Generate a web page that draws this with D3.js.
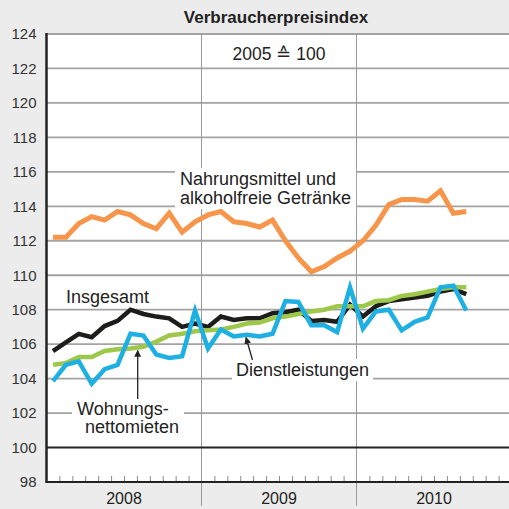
<!DOCTYPE html>
<html>
<head>
<meta charset="utf-8">
<script src="https://cdn.jsdelivr.net/npm/d3@7"></script>
<style>
  html, body { margin: 0; padding: 0; background: #ececec; }
  svg { display: block; font-family: "Liberation Sans", Arial, Helvetica, sans-serif; }
</style>
</head>
<body>
<svg id="chart" width="509" height="509"></svg>
<script>
// Monthly index values, January 2008 to September 2010 (2005 = 100)
const years = ["2008", "2009", "2010"];
const yTicks = [98, 100, 102, 104, 106, 108, 110, 112, 114, 116, 118, 120, 122, 124];

const nahrungsmittel = [112.2, 112.2, 113.0, 113.4, 113.2, 113.7, 113.5, 113.0, 112.7, 113.6, 112.5, 113.1,
  113.5, 113.7, 113.1, 113.0, 112.8, 113.2, 112.0, 111.0, 110.2, 110.5, 111.0, 111.4,
  112.0, 112.9, 114.1, 114.4, 114.4, 114.3, 114.9, 113.6, 113.7];
const insgesamt = [105.6, 106.1, 106.6, 106.4, 107.05, 107.35, 108.0, 107.75, 107.6, 107.5, 107.0, 107.2,
  107.0, 107.6, 107.4, 107.5, 107.5, 107.8, 107.85, 108.0, 107.35, 107.4, 107.3, 108.3,
  107.6, 108.2, 108.5, 108.6, 108.7, 108.8, 109.05, 109.2, 108.9];
const dienstleistungen = [103.85, 104.8, 105.0, 103.7, 104.55, 104.8, 106.6, 106.5, 105.4, 105.2, 105.3, 107.95,
  105.75, 106.85, 106.45, 106.55, 106.45, 106.6, 108.5, 108.45, 107.1, 107.1, 106.7, 109.3,
  106.9, 107.9, 108.0, 106.8, 107.3, 107.55, 109.3, 109.4, 107.95];
const wohnungsnettomieten = [104.8, 104.9, 105.25, 105.25, 105.6, 105.7, 105.75, 105.85, 106.15, 106.5, 106.6, 106.75,
  106.8, 106.85, 107.0, 107.2, 107.25, 107.5, 107.6, 107.75, 107.9, 108.0, 108.2, 108.2,
  108.2, 108.5, 108.55, 108.8, 108.9, 109.05, 109.2, 109.3, 109.3];

const W = 509, H = 509;
const svg = d3.select("#chart");

// month index scale: 36 months across three years
const x = d3.scaleLinear().domain([0, 36]).range([46.5, 511.5]);
const y = d3.scaleLinear().domain([98, 124]).range([482, 34]);

// background and plot area
svg.append("rect").attr("width", W).attr("height", H).attr("fill", "#ececec");
svg.append("rect")
  .attr("x", x(0)).attr("y", y(124))
  .attr("width", W - x(0)).attr("height", y(98) - y(124))
  .attr("fill", "#ffffff");

// horizontal grid
const grid = svg.append("g");
grid.selectAll("line")
  .data(yTicks.filter(v => v > 100))
  .join("line")
  .attr("x1", x(0)).attr("x2", W)
  .attr("y1", d => y(d)).attr("y2", d => y(d))
  .attr("stroke", "#a3a3a3").attr("stroke-width", 1.8);

// year separators
svg.append("g").selectAll("line")
  .data([12, 24])
  .join("line")
  .attr("x1", d => x(d)).attr("x2", d => x(d))
  .attr("y1", y(124)).attr("y2", 506)
  .attr("stroke", "#9a9a9a").attr("stroke-width", 1);

// monthly ticks on the bottom axis
const monthTicks = d3.range(1, 36).filter(m => m % 12 !== 0);
const xAxis = svg.append("g")
  .attr("transform", `translate(0,${y(98)})`)
  .call(d3.axisBottom(x).tickValues(monthTicks).tickSize(-6).tickFormat(""));
xAxis.select(".domain").remove();
xAxis.selectAll(".tick line").attr("stroke", "#8a8a8a").attr("stroke-width", 1);

// baseline 100 and axes
svg.append("line")
  .attr("x1", x(0)).attr("x2", W).attr("y1", y(100)).attr("y2", y(100))
  .attr("stroke", "#222").attr("stroke-width", 2);
svg.append("line")
  .attr("x1", x(0)).attr("x2", W).attr("y1", y(98)).attr("y2", y(98))
  .attr("stroke", "#222").attr("stroke-width", 2);
svg.append("line")
  .attr("x1", x(0)).attr("x2", x(0)).attr("y1", y(124) - 1).attr("y2", y(98) + 1)
  .attr("stroke", "#222").attr("stroke-width", 2.5);

// y labels
const yAxis = svg.append("g")
  .attr("transform", `translate(${x(0)},0)`)
  .call(d3.axisLeft(y).tickValues(yTicks).tickSize(0).tickPadding(10));
yAxis.select(".domain").remove();
yAxis.selectAll("text")
  .attr("font-size", 15).attr("fill", "#333")
  .style("font-family", "'Liberation Sans', Arial, sans-serif");

// year labels
svg.append("g").selectAll("text")
  .data(years)
  .join("text")
  .attr("x", (d, i) => x(i * 12 + 6))
  .attr("y", 504)
  .attr("text-anchor", "middle")
  .attr("font-size", 16).attr("fill", "#222")
  .text(d => d);

// title and base note
svg.append("text")
  .attr("x", 276).attr("y", 23)
  .attr("text-anchor", "middle")
  .attr("font-size", 17).attr("font-weight", "bold").attr("fill", "#222")
  .text("Verbraucherpreisindex");
svg.append("text")
  .attr("x", x(18)).attr("y", 60)
  .attr("text-anchor", "middle")
  .attr("font-size", 17.5).attr("fill", "#222")
  .text("2005 \u2259 100");

// labels with white boxes that cut through the grid
const labelLayer = svg.append("g");
function boxedLabel(lines, x0, baselines, pad) {
  const g = labelLayer.append("g");
  const rect = g.append("rect").attr("fill", "#fff");
  lines.forEach((t, i) => {
    g.append("text")
      .attr("x", x0[i]).attr("y", baselines[i])
      .attr("font-size", 18).attr("fill", "#222")
      .text(t);
  });
  const bb = g.node().getBBox();
  rect.attr("x", bb.x - pad).attr("y", bb.y - 1)
    .attr("width", bb.width + 2 * pad).attr("height", bb.height + 2);
  return g;
}

// series lines
const line = d3.line().x((d, i) => x(i + 0.5)).y(d => y(d));
const series = [
  { values: nahrungsmittel, color: "#f7964a", width: 5 },
  { values: insgesamt, color: "#1d1d1b", width: 4.5 },
  { values: wohnungsnettomieten, color: "#9dc84a", width: 4.5 },
  { values: dienstleistungen, color: "#1eb0e2", width: 4.5 }
];
const lineLayer = svg.append("g");
lineLayer.selectAll("path")
  .data(series)
  .join("path")
  .attr("d", d => line(d.values))
  .attr("fill", "none")
  .attr("stroke", d => d.color)
  .attr("stroke-width", d => d.width)
  .attr("stroke-linejoin", "miter");

boxedLabel(["Nahrungsmittel und", "alkoholfreie Getränke"], [180, 180], [185, 204], 5);
boxedLabel(["Dienstleistungen"], [236], [376], 4);
boxedLabel(["Wohnungs-", "nettomieten"], [77, 85], [415, 433], 5);

svg.append("text")
  .attr("x", 66).attr("y", 303)
  .attr("font-size", 18).attr("fill", "#222")
  .text("Insgesamt");

// pointer arrows
svg.append("defs").append("marker")
  .attr("id", "arrow")
  .attr("viewBox", "0 0 10 10")
  .attr("refX", 9).attr("refY", 5)
  .attr("markerWidth", 7).attr("markerHeight", 7)
  .attr("markerUnits", "userSpaceOnUse")
  .attr("orient", "auto")
  .append("path").attr("d", "M0,0 L10,5 L0,10 z").attr("fill", "#222");

function pointer(x1, y1, x2, y2) {
  svg.append("line")
    .attr("x1", x1).attr("y1", y1).attr("x2", x2).attr("y2", y2)
    .attr("stroke", "#222").attr("stroke-width", 1.3)
    .attr("marker-end", "url(#arrow)");
}
pointer(252.5, 360, 246, 337.5);
pointer(137.7, 399, 137.7, 350.5);
</script>
</body>
</html>
